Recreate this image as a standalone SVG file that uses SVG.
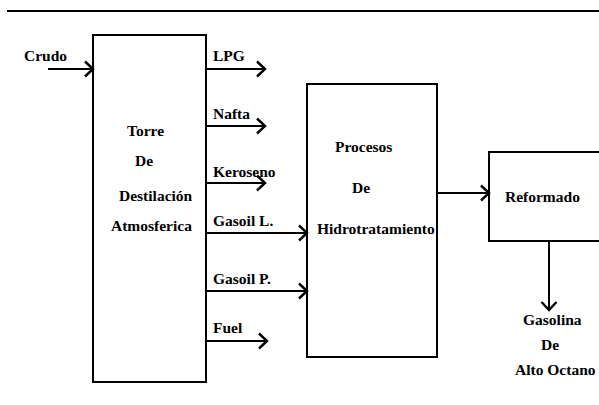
<svg xmlns="http://www.w3.org/2000/svg" width="599" height="405" viewBox="0 0 599 405">
<style>
text{font-family:'Liberation Serif','Times New Roman','DejaVu Serif',serif;font-weight:700;font-size:15.5px;fill:#000}
.box{fill:#fff;stroke:#000;stroke-width:2}
.ln{fill:none;stroke:#000;stroke-width:2}
</style>
<defs>
<marker id="ah" markerWidth="12" markerHeight="18" refX="10" refY="9" orient="auto" markerUnits="userSpaceOnUse">
<path d="M2,1.5 L10,9 L2,16.5" fill="none" stroke="#000" stroke-width="2.4"/>
</marker>
</defs>
<rect width="599" height="405" fill="#fff"/>
<line x1="7" y1="11" x2="599" y2="11" class="ln"/>
<g id="torre">
<rect class="box" x="93" y="35" width="113" height="347"/>
<text x="127" y="136">Torre</text>
<text x="135" y="166">De</text>
<text x="119" y="201">Destilación</text>
<text x="111" y="231">Atmosferica</text>
</g>
<g id="hidro">
<rect class="box" x="307" y="84" width="130" height="273"/>
<text x="335" y="152">Procesos</text>
<text x="352" y="193">De</text>
<text x="317" y="234">Hidrotratamiento</text>
</g>
<g id="reformado">
<rect class="box" x="489" y="152" width="120" height="89"/>
<text x="505" y="202">Reformado</text>
</g>
<g id="labels">
<text x="24" y="61">Crudo</text>
<text x="213" y="61">LPG</text>
<text x="213" y="119">Nafta</text>
<text x="213" y="177">Keroseno</text>
<text x="213" y="226">Gasoil L.</text>
<text x="213" y="284">Gasoil P.</text>
<text x="213" y="333">Fuel</text>
<text x="523" y="325">Gasolina</text>
<text x="541" y="350">De</text>
<text x="515" y="375">Alto Octano</text>
</g>
<g id="connectors">
<line class="ln" x1="48" y1="69" x2="93" y2="69" marker-end="url(#ah)"/>
<line class="ln" x1="206" y1="69" x2="265" y2="69" marker-end="url(#ah)"/>
<line class="ln" x1="206" y1="126" x2="265" y2="126" marker-end="url(#ah)"/>
<line class="ln" x1="206" y1="183" x2="265" y2="183" marker-end="url(#ah)"/>
<line class="ln" x1="206" y1="233" x2="307" y2="233" marker-end="url(#ah)"/>
<line class="ln" x1="206" y1="291" x2="307" y2="291" marker-end="url(#ah)"/>
<line class="ln" x1="206" y1="341" x2="267" y2="341" marker-end="url(#ah)"/>
<line class="ln" x1="437" y1="193" x2="489" y2="193" marker-end="url(#ah)"/>
<line class="ln" x1="549" y1="241" x2="549" y2="310" marker-end="url(#ah)"/>
</g>
</svg>
